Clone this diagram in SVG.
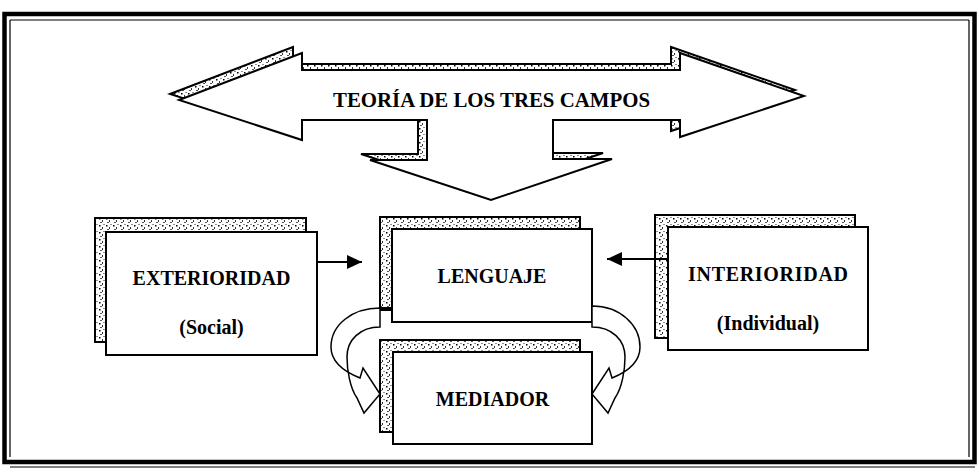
<svg xmlns="http://www.w3.org/2000/svg" width="979" height="473" viewBox="0 0 979 473">
<defs>
<pattern id="speck" width="7" height="7" patternUnits="userSpaceOnUse">
<rect width="7" height="7" fill="#fff"/>
<rect x="1" y="1" width="1.5" height="1.5" fill="#000"/>
<rect x="4" y="3" width="1" height="2" fill="#333"/>
<rect x="2" y="5" width="2" height="1" fill="#555"/>
<rect x="5.5" y="0" width="1" height="1" fill="#222"/>
</pattern>
<marker id="ah" viewBox="0 0 15 14" refX="15" refY="7" markerWidth="15" markerHeight="14" markerUnits="userSpaceOnUse" orient="auto">
<path d="M0,0 L15,7 L0,14 Z" fill="#000"/>
</marker>
</defs>
<style>
.shadow{fill:url(#speck);stroke:#000;stroke-width:2}
.box{fill:#fff;stroke:#000;stroke-width:2}
.lbl{font-family:"Liberation Serif","Times New Roman",serif;font-weight:bold;font-size:20px;fill:#000;text-anchor:middle}
.conn{fill:none;stroke:#000;stroke-width:2}
.block{fill:#fff;stroke:#000;stroke-width:1.5}
</style>
<rect width="979" height="473" fill="#fff"/>
<g id="frame">
<rect x="4.5" y="14" width="970" height="448" fill="none" stroke="#000" stroke-width="4.5"/>
<path d="M10,20 H969 M10,20 V457 M969,20 V457 M10,467 H975" fill="none" stroke="#000" stroke-width="1.2"/>
</g>
<g id="title-arrow">
<path class="shadow" transform="translate(-9,-6)" d="M179,100 L302,53 L302,70 L680,70 L680,53 L804,96 L680,137 L680,120 L553,120 L553,159 L612,159 L491,200 L370,160 L427,160 L427,120 L302,120 L302,140 Z"/>
<path fill="#fff" stroke="#000" stroke-width="2" d="M179,100 L302,53 L302,70 L680,70 L680,53 L804,96 L680,137 L680,120 L553,120 L553,159 L612,159 L491,200 L370,160 L427,160 L427,120 L302,120 L302,140 Z"/>
<text class="lbl" x="491.5" y="107" font-size="23.5" textLength="317" lengthAdjust="spacingAndGlyphs">TEORÍA DE LOS TRES CAMPOS</text>
</g>
<g id="exterioridad">
<rect class="shadow" x="95" y="218" width="211" height="124"/>
<rect class="box" x="106" y="232" width="211" height="123"/>
<text class="lbl" x="211.5" y="285">EXTERIORIDAD</text>
<text class="lbl" x="211.5" y="334" font-size="19">(Social)</text>
</g>
<g id="lenguaje">
<rect class="shadow" x="380" y="217" width="200" height="93"/>
<rect class="box" x="392" y="229" width="200" height="93"/>
<text class="lbl" x="492" y="283">LENGUAJE</text>
</g>
<g id="interioridad">
<rect class="shadow" x="655" y="215" width="200" height="123"/>
<rect class="box" x="668" y="227" width="200" height="123"/>
<text class="lbl" x="768" y="281" textLength="160">INTERIORIDAD</text>
<text class="lbl" x="768" y="330">(Individual)</text>
</g>
<g id="mediador">
<rect class="shadow" x="380" y="340" width="200" height="92"/>
<rect class="box" x="393" y="352" width="199" height="92"/>
<text class="lbl" x="492.5" y="406">MEDIADOR</text>
</g>
<g id="connectors">
<line class="conn" x1="317" y1="262" x2="362" y2="262" marker-end="url(#ah)"/>
<line class="conn" x1="668" y1="259" x2="607" y2="259" marker-end="url(#ah)"/>
<path class="block" d="M380,308 C352,308 331,325 331,347 C331,362 345,372 360,378 L363,368 L380,394 L364,413 L357,398 C350,388 347,370 347,357 C347,340 360,327 380,327 Z"/>
<line class="conn" x1="380" y1="308" x2="392" y2="308" stroke-width="1.5"/>
<path class="block" d="M592,306 C620,306 640,325 640,347 C640,362 627,372 612,378 L609,368 L592,394 L608,413 L615,398 C622,388 625,370 625,357 C625,340 612,327 592,327 Z"/>
</g>
</svg>
